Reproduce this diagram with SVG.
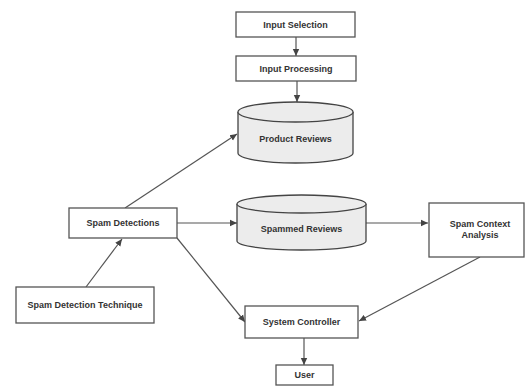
<svg xmlns="http://www.w3.org/2000/svg" width="531" height="387" viewBox="0 0 531 387">
<style>
.box{fill:#fff;stroke:#555;stroke-width:1.3}
.cyl{fill:#ececec;stroke:#444;stroke-width:1.3}
.t{font-family:"Liberation Sans",Arial,sans-serif;font-size:9px;font-weight:bold;fill:#333;text-anchor:middle;dominant-baseline:central}
.c{stroke:#555;stroke-width:1.2;fill:none;marker-end:url(#ah)}
</style>
<defs>
<marker id="ah" markerWidth="8" markerHeight="8" refX="7" refY="4" orient="auto" markerUnits="userSpaceOnUse">
<path d="M0,0.8 L7,4 L0,7.2 Z" fill="#444"/>
</marker>
</defs>
<rect width="531" height="387" fill="#fff"/>
<g id="connectors">
<line class="c" x1="296" y1="37" x2="296" y2="56"/>
<line class="c" x1="297" y1="81" x2="297" y2="102"/>
<line class="c" x1="125" y1="208" x2="237" y2="134"/>
<line class="c" x1="177" y1="223" x2="237" y2="223"/>
<line class="c" x1="86" y1="287" x2="122" y2="239"/>
<line class="c" x1="177" y1="238" x2="245" y2="322"/>
<line class="c" x1="366" y1="223" x2="428" y2="223"/>
<line class="c" x1="480" y1="257" x2="359" y2="321"/>
<line class="c" x1="304" y1="338" x2="304" y2="365"/>
</g>
<g id="input-selection">
<rect class="box" x="236" y="12" width="119" height="25"/>
<text class="t" x="295.5" y="24.5">Input Selection</text>
</g>
<g id="input-processing">
<rect class="box" x="236" y="56" width="120" height="25"/>
<text class="t" x="296" y="68.5">Input Processing</text>
</g>
<g id="product-reviews">
<path class="cyl" d="M238,112 L238,153 A57.5,10 0 0 0 353,153 L353,112"/>
<ellipse class="cyl" cx="295.5" cy="112" rx="57.5" ry="10"/>
<text class="t" x="295.5" y="139">Product Reviews</text>
</g>
<g id="spam-detections">
<rect class="box" x="69" y="208" width="108" height="30"/>
<text class="t" x="123" y="223">Spam Detections</text>
</g>
<g id="spammed-reviews">
<path class="cyl" d="M237,204 L237,241 A64.5,9 0 0 0 366,241 L366,204"/>
<ellipse class="cyl" cx="301.5" cy="204" rx="64.5" ry="9"/>
<text class="t" x="301.5" y="229">Spammed Reviews</text>
</g>
<g id="spam-context-analysis">
<rect class="box" x="429" y="203" width="95" height="54"/>
<text class="t" x="480" y="224">Spam Context</text>
<text class="t" x="480" y="235">Analysis</text>
</g>
<g id="spam-detection-technique">
<rect class="box" x="16" y="287" width="138" height="36"/>
<text class="t" x="85" y="305">Spam Detection Technique</text>
</g>
<g id="system-controller">
<rect class="box" x="245" y="306" width="113" height="32"/>
<text class="t" x="301.5" y="322">System Controller</text>
</g>
<g id="user">
<rect class="box" x="276" y="365" width="57" height="20"/>
<text class="t" x="304.5" y="375">User</text>
</g>
</svg>
